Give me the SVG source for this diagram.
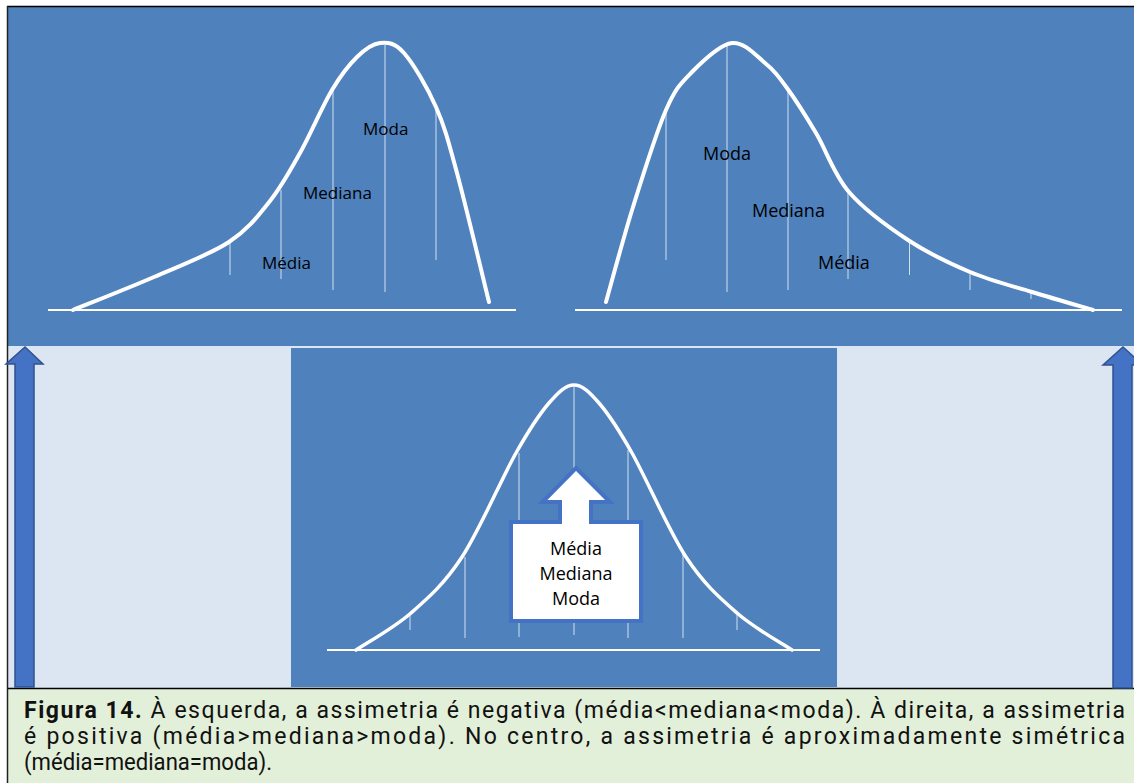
<svg xmlns="http://www.w3.org/2000/svg" width="1134" height="783" viewBox="0 0 1134 783">
<defs>
<style>
.panel{fill:#4F81BD}
.curve{fill:none;stroke:#FFFFFF;stroke-width:4;stroke-linecap:round;stroke-linejoin:round}
.base{stroke:#FFFFFF;stroke-width:2}
.tick{stroke:#FFFFFF;stroke-opacity:0.75;stroke-width:1}
.lbl{font-family:"Open Sans","Liberation Sans",sans-serif;font-size:17px;fill:#000000}
.lblr{font-family:"Open Sans","Liberation Sans",sans-serif;font-size:18px;font-weight:500;fill:#000000}
.arrow{fill:#4472C4;stroke:#2F528F;stroke-width:1.5}
.cap{font-family:Roboto,"Liberation Sans",sans-serif;font-size:23px;fill:#111111}
</style>
</defs>
<!-- backgrounds -->
<rect x="8" y="346" width="1126" height="342" fill="#DCE6F2"/>
<rect class="panel" x="8" y="7" width="1126" height="339"/>
<rect class="panel" x="291" y="348" width="546" height="339"/>
<rect x="8" y="688" width="1126" height="95" fill="#E2EFD9"/>
<line x1="7" y1="6.5" x2="1134" y2="6.5" stroke="#000" stroke-width="1.5"/>
<line x1="7.5" y1="6" x2="7.5" y2="783" stroke="#222" stroke-width="1.5"/>
<line x1="8" y1="688.5" x2="1134" y2="688.5" stroke="#000" stroke-width="1.5"/>

<g id="left-distribution">
<line class="base" x1="48" y1="310" x2="516" y2="310"/>
<line class="tick" x1="230" y1="242" x2="230" y2="275"/>
<line class="tick" x1="281" y1="190" x2="281" y2="279"/>
<line class="tick" x1="333" y1="90" x2="333" y2="290"/>
<line class="tick" x1="385" y1="45" x2="385" y2="292"/>
<line class="tick" x1="436" y1="110" x2="436" y2="260"/>
<path class="curve" d="M73,310 C86.5,304.5 128,288.3 154,277 C180,265.7 209.7,254.7 229,242 C248.3,229.3 258.2,215.8 270,201 C281.8,186.2 289.7,171.5 300,153 C310.3,134.5 322.5,106 332,90 C341.5,74 349,64.8 357,57 C365,49.2 372.2,43.7 380,43 C387.8,42.3 394.7,42.3 404,53 C413.3,63.7 427.2,87 436,107 C444.8,127 448.2,140.5 457,173 C465.8,205.5 483.7,280.5 489,302"/>
<text class="lbl" x="363" y="135">Moda</text>
<text class="lbl" x="303" y="199">Mediana</text>
<text class="lbl" x="262" y="269">Média</text>
</g>

<g id="right-distribution">
<line class="base" x1="575" y1="310" x2="1122" y2="310"/>
<line class="tick" x1="666" y1="110" x2="666" y2="260"/>
<line class="tick" x1="727" y1="45" x2="727" y2="292"/>
<line class="tick" x1="788" y1="88" x2="788" y2="290"/>
<line class="tick" x1="848" y1="192" x2="848" y2="279"/>
<line class="tick" x1="909.5" y1="240" x2="909.5" y2="275"/>
<line class="tick" x1="970" y1="272" x2="970" y2="290"/>
<line class="tick" x1="1031" y1="292" x2="1031" y2="299"/>
<path class="curve" d="M606,302 C610.5,286.2 623,239 633,207 C643,175 656.2,132.5 666,110 C675.8,87.5 681,83.2 692,72 C703,60.8 719.8,44.5 732,43 C744.2,41.5 755.8,55.5 765,63 C774.2,70.5 778.5,76.3 787,88 C795.5,99.7 805.7,115.7 816,133 C826.3,150.3 833.7,174.2 849,192 C864.3,209.8 887.8,226.7 908,240 C928.2,253.3 949.3,263.3 970,272 C990.7,280.7 1011.5,285.7 1032,292 C1052.5,298.3 1082.8,307 1093,310"/>
<text class="lblr" x="703" y="160">Moda</text>
<text class="lblr" x="752" y="217">Mediana</text>
<text class="lblr" x="818" y="269">Média</text>
</g>

<g id="center-distribution">
<line class="base" x1="327" y1="650" x2="820" y2="650"/>
<line class="tick" x1="410" y1="613" x2="410" y2="630"/>
<line class="tick" x1="465" y1="557" x2="465" y2="638"/>
<line class="tick" x1="519" y1="453" x2="519" y2="637"/>
<line class="tick" x1="574" y1="387" x2="574" y2="635"/>
<line class="tick" x1="628" y1="450" x2="628" y2="638"/>
<line class="tick" x1="683" y1="550" x2="683" y2="638"/>
<line class="tick" x1="737" y1="613" x2="737" y2="630"/>
<path class="curve" style="stroke-width:3.5" d="M356,650 C365.2,643.8 393.3,628.5 411,613 C428.7,597.5 444.5,583.7 462,557 C479.5,530.3 501.5,478.7 516,453 C530.5,427.3 539.3,414.3 549,403 C558.7,391.7 565.7,385 574,385 C582.3,385 589.3,391.7 599,403 C608.7,414.3 617.5,427.3 632,453 C646.5,478.7 668.5,530.3 686,557 C703.5,583.7 719.3,597.5 737,613 C754.7,628.5 782.8,643.8 792,650"/>
</g>

<g id="center-callout">
<path d="M511,522 L560,522 L560,502 L542.5,502 L576,468 L610,502 L591,502 L591,522 L641,522 L641,621 L511,621 Z" fill="#FFFFFF" stroke="#4472C4" stroke-width="4" stroke-linejoin="miter"/>
<text class="lblr" x="576" y="555" text-anchor="middle">Média</text>
<text class="lblr" x="576" y="580" text-anchor="middle">Mediana</text>
<text class="lblr" x="576" y="605" text-anchor="middle">Moda</text>
</g>

<g id="connectors">
<path class="arrow" d="M25,347 L43,364 L34,364 L34,687 L15,687 L15,364 L6,364 Z"/>
<path class="arrow" d="M1123,347 L1143,365 L1132,365 L1132,688 L1113,688 L1113,365 L1103,365 Z"/>
</g>

<g id="caption">
<text class="cap" x="24" y="718" textLength="1101" lengthAdjust="spacing"><tspan font-weight="bold">Figura 14.</tspan> À esquerda, a assimetria é negativa (média&lt;mediana&lt;moda). À direita, a assimetria</text>
<text class="cap" x="24" y="744" textLength="1101" lengthAdjust="spacing">é positiva (média&gt;mediana&gt;moda). No centro, a assimetria é aproximadamente simétrica</text>
<text class="cap" x="24" y="770" textLength="248" lengthAdjust="spacingAndGlyphs">(média=mediana=moda).</text>
</g>
</svg>
